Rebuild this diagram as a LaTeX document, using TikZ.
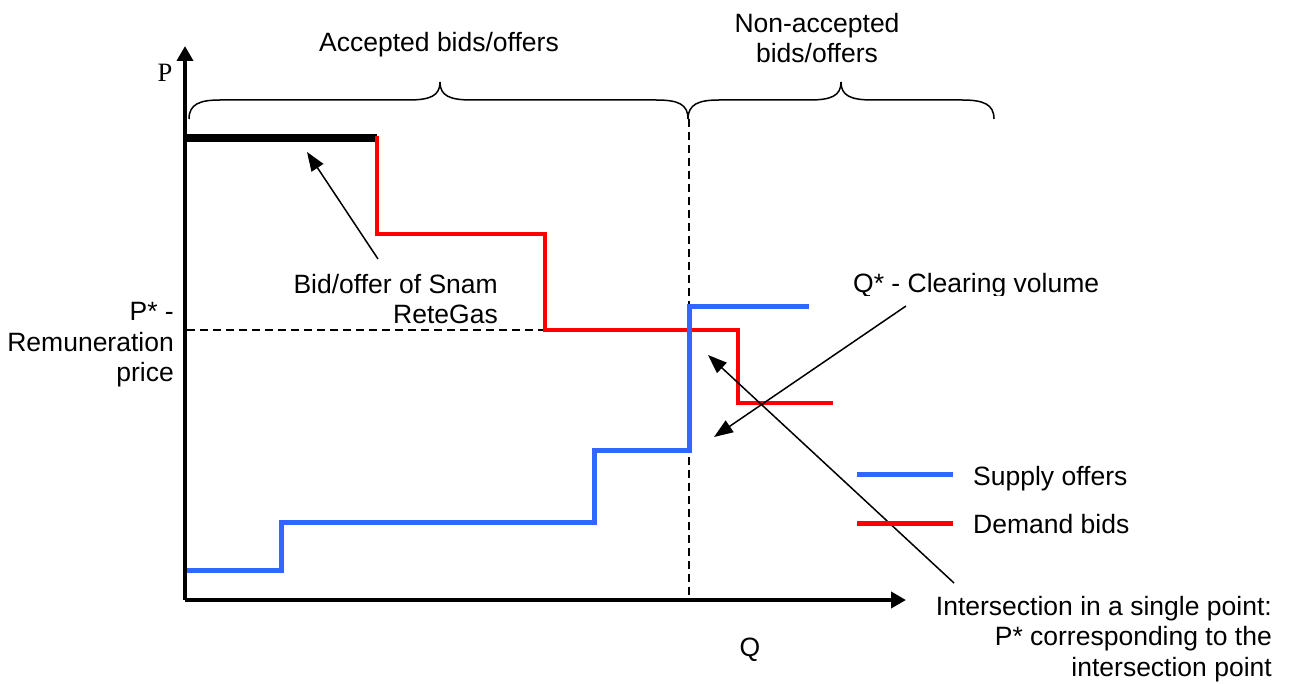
\documentclass[tikz,border=0pt]{standalone}
\usepackage{fontspec}
\setmainfont{Liberation Sans}
\newfontfamily\axisserif{Liberation Serif}
\usetikzlibrary{arrows.meta}
\definecolor{supplyblue}{RGB}{51,102,255}
\definecolor{demandred}{RGB}{255,0,0}
\begin{document}
\begin{tikzpicture}[x=1pt,y=-1pt,
  lbl/.style={inner sep=0pt, font=\fontsize{26.5}{30.5}\selectfont},
  axisline/.style={line width=4.5pt, -{Triangle[length=15pt,width=16pt]}},
  supplyline/.style={line width=5pt, supplyblue},
  demandline/.style={line width=4pt, demandred},
  snambar/.style={line width=8pt, black},
  guide/.style={line width=1.5pt, dash pattern=on 8pt off 5pt},
  bracestyle/.style={line width=1.5pt},
  callout/.style={line width=1.5pt, -{Triangle[length=19pt,width=14pt]}}]
\useasboundingbox (0,0) rectangle (1292,684);

% axes
\coordinate (origin) at (185,600);
\coordinate (ytip) at (185,46);
\coordinate (xtip) at (906,600);
\draw[axisline] (origin) -- (ytip);
\draw[axisline] (origin) -- (xtip);
\node[lbl, font=\fontsize{26.5}{30.5}\selectfont\axisserif, anchor=base] (plabel) at (165,82) {P};
\node[lbl, anchor=base] (qlabel) at (750,656) {Q};

% guide lines
\coordinate (vtop) at (689,119);
\coordinate (vbot) at (689,600);
\draw[guide] (vtop) -- (vbot);
\coordinate (hleft) at (187,330);
\coordinate (hright) at (545,330);
\draw[guide] (hleft) -- (hright);

% Snam ReteGas bid/offer
\coordinate (bar0) at (185,138);
\coordinate (bar1) at (377,138);
\draw[snambar] (bar0) -- (bar1);

% demand bids
\draw[demandline, line join=miter] (377,136) -- (377,234) -- (545,234) -- (545,330) -- (738,330) -- (738,403) -- (833,403);

% supply offers
\draw[supplyline, line join=miter] (187,570) -- (281,570) -- (281,522) -- (594,522) -- (594,450) -- (689,450) -- (689,307) -- (809,307);

% braces
\draw[bracestyle] (189,119) .. controls (189,104) and (200,100) .. (220,100) -- (408,100) .. controls (430,100) and (440,96) .. (440,82) .. controls (440,96) and (450,100) .. (472,100) -- (656,100) .. controls (678,100) and (688,104) .. (688,119);
\draw[bracestyle] (688,119) .. controls (688,104) and (699,100) .. (719,100) -- (809,100) .. controls (831,100) and (841,96) .. (841,82) .. controls (841,96) and (851,100) .. (873,100) -- (962,100) .. controls (983,100) and (994,104) .. (994,119);

% top labels
\node[lbl, anchor=base] (acc) at (439,52) {Accepted bids/offers};
\node[lbl, anchor=north, align=center] (nonacc) at (817,10.65) {\strut Non-accepted\\bids/offers};

% left label
\node[lbl, anchor=north east, align=right] (pstar) at (174,299) {\strut P* -\\Remuneration\\price};

% Snam label and arrow
\node[lbl, anchor=north east, align=right] (snam) at (498,271.5) {\strut Bid/offer of Snam\\ReteGas};
\coordinate (snamtail) at (378,259);
\coordinate (snamtip) at (307,152);
\draw[callout] (snamtail) -- (snamtip);

% Q* label and arrow
\begin{scope}
\clip (840,250) rectangle (1120,296);
\node[lbl, anchor=base west] (qstar) at (853,293) {Q* - Clearing volume};
\end{scope}
\coordinate (qtail) at (906,306);
\coordinate (qtip) at (714,437);
\draw[callout] (qtail) -- (qtip);

% intersection label and arrow
\node[lbl, anchor=north east, align=right] (inter) at (1272,593.65) {\strut Intersection in a single point:\\P* corresponding to the\\intersection point};
\coordinate (itail) at (954,583);
\coordinate (itip) at (708,355);
\draw[callout] (itail) -- (itip);

% legend
\coordinate (lb0) at (857,474);
\coordinate (lb1) at (953,474);
\draw[supplyline] (lb0) -- (lb1);
\node[lbl, anchor=base west] (legs) at (973,485) {Supply offers};
\coordinate (lr0) at (857,523);
\coordinate (lr1) at (953,523);
\draw[line width=5pt, demandred] (lr0) -- (lr1);
\node[lbl, anchor=base west] (legd) at (973,533) {Demand bids};
\end{tikzpicture}
\end{document}
